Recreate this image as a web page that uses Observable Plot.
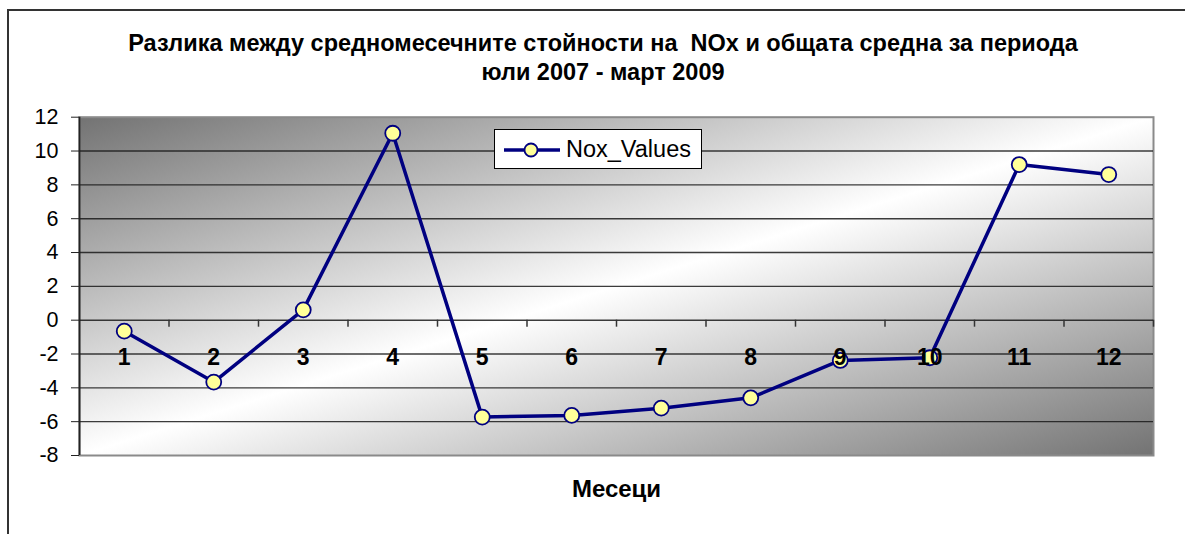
<!DOCTYPE html>
<html>
<head>
<meta charset="utf-8">
<script src="https://cdn.jsdelivr.net/npm/d3@7"></script>
<script src="https://cdn.jsdelivr.net/npm/@observablehq/plot@0.6"></script>
<style>
  html, body { margin: 0; padding: 0; background: #fff; }
  #wrap { position: relative; width: 1185px; height: 534px; overflow: hidden; font-family: "Liberation Sans", Arial, sans-serif; }
  #frame { position: absolute; left: 7px; top: 9px; right: -10px; bottom: -10px; border-left: 2px solid #333; border-top: 2px solid #333; pointer-events: none; }
  #title { position: absolute; left: 0; top: 29px; width: 1206px; text-align: center; font-weight: bold; font-size: 23.5px; line-height: 29px; color: #000; white-space: pre; }
  #chart { position: absolute; left: 0; top: 100px; }
  #legend { position: absolute; left: 494px; top: 129px; width: 208px; height: 40px; box-sizing: border-box; background: #fff; border: 1px solid #000; }
  #legend svg { position: absolute; left: 8px; top: 9px; }
  #legend span { position: absolute; left: 71px; top: 6px; font-size: 23.5px; line-height: 26px; color: #000; }
</style>
</head>
<body>
<div id="wrap">
  <div id="title"></div>
  <div id="chart"></div>
  <div id="frame"></div>
  <div id="legend"></div>
</div>
<script>
// ---- data ----
const titleLines = ["Разлика между средномесечните стойности на  NOx и общата средна за периода", "юли 2007 - март 2009"];
const seriesName = "Nox_Values";
const xTitle = "Месеци";
const months = [1, 2, 3, 4, 5, 6, 7, 8, 9, 10, 11, 12];
const values = [-0.65, -3.66, 0.61, 11.05, -5.73, -5.63, -5.2, -4.59, -2.38, -2.22, 9.2, 8.61];
const yTicks = [-8, -6, -4, -2, 0, 2, 4, 6, 8, 10, 12];

// ---- build ----
const data = months.map((m, i) => ({month: m, value: values[i]}));
const boundaries = months.map(m => m + 0.5);
const gridTicks = yTicks.filter(t => t > yTicks[0] && t < yTicks[yTicks.length - 1]);

document.getElementById("title").textContent = titleLines.join("\n");

const navy = "#000080";
const markerFill = "#ffff99";

const chart = Plot.plot({
  width: 1185,
  height: 434,
  marginLeft: 79,
  marginRight: 32,
  marginTop: 16.7,
  marginBottom: 79,
  x: {domain: [0.5, 12.5], axis: null},
  y: {domain: [-8, 12], axis: null},
  style: {fontFamily: "'Liberation Sans', Arial, sans-serif", background: "transparent", color: "#000", overflow: "visible"},
  marks: [
    Plot.frame({fill: "url(#plotBg)", stroke: "#8a8a8a", strokeWidth: 2}),
    Plot.gridY(gridTicks, {stroke: "#1a1a1a", strokeOpacity: 0.85, strokeWidth: 1.4}),
    Plot.ruleX(boundaries, {x: d => d, y1: 0, y2: 0, insetBottom: -7, stroke: "#333", strokeWidth: 1.5}),
    Plot.ruleX([0.5], {x: d => d, stroke: "#222", strokeWidth: 1.8}),
    Plot.axisY({ticks: yTicks, tickSize: 8, tickPadding: 13, fontSize: 21.5, label: null, tickFormat: d => String(d), stroke: "#222"}),
    Plot.line(data, {x: "month", y: "value", stroke: navy, strokeWidth: 3.5}),
    Plot.dot(data, {x: "month", y: "value", r: 7.5, fill: markerFill, stroke: navy, strokeWidth: 1.8}),
    Plot.text(months, {x: d => d, y: 0, dy: 37, text: d => String(d), fontSize: 23, fontWeight: "bold", fill: "#000"}),
    Plot.text([xTitle], {frameAnchor: "bottom", dy: 41, text: d => d, fontSize: 24, fontWeight: "bold", fill: "#000"})
  ]
});

// gradient definition for plot background
const svg = d3.select(chart);
const defs = svg.insert("defs", ":first-child");
const grad = defs.append("linearGradient").attr("id", "plotBg")
  .attr("x1", 0).attr("y1", 0).attr("x2", 1).attr("y2", 1);
grad.append("stop").attr("offset", "0%").attr("stop-color", "#737373");
grad.append("stop").attr("offset", "50%").attr("stop-color", "#ffffff");
grad.append("stop").attr("offset", "100%").attr("stop-color", "#737373");

document.getElementById("chart").appendChild(chart);

// legend
const legend = d3.select("#legend");
const ls = legend.append("svg").attr("width", 60).attr("height", 22);
ls.append("line").attr("x1", 1).attr("x2", 57).attr("y1", 11).attr("y2", 11).attr("stroke", navy).attr("stroke-width", 3.5);
ls.append("circle").attr("cx", 28).attr("cy", 11).attr("r", 6.5).attr("fill", markerFill).attr("stroke", navy).attr("stroke-width", 1.8);
legend.append("span").text(seriesName);
</script>
</body>
</html>
